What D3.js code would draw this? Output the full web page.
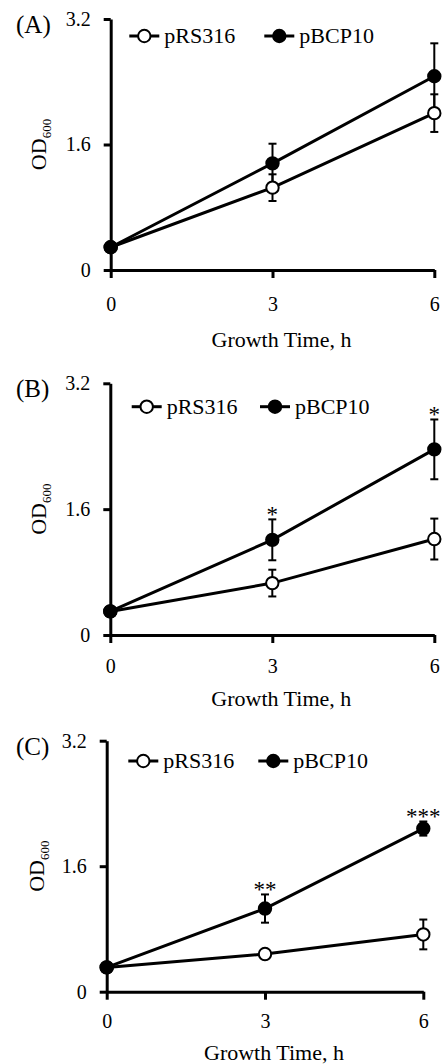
<!DOCTYPE html>
<html>
<head>
<meta charset="utf-8">
<script src="https://cdn.jsdelivr.net/npm/d3@7"></script>
<style>
  body { margin: 0; background: #fff; }
</style>
</head>
<body>
<div id="chart"></div>
<script>
// data (OD600 means and error bars)
const times = [0, 3, 6];
const seriesNames = ["pRS316", "pBCP10"];
const panelLabels = ["(A)", "(B)", "(C)"];
const yTicks = [0, 1.6, 3.2];
const yTickLabels = ["0", "1.6", "3.2"];
const xTickLabels = ["0", "3", "6"];

const rs316Mean = [[0.29, 1.05, 2.00], [0.30, 0.66, 1.22], [0.31, 0.48, 0.73]];
const rs316Err  = [[0.02, 0.17, 0.24], [0.02, 0.17, 0.26], [0.02, 0.03, 0.19]];
const bcp10Mean = [[0.29, 1.36, 2.47], [0.30, 1.21, 2.36], [0.31, 1.06, 2.08]];
const bcp10Err  = [[0.02, 0.25, 0.42], [0.02, 0.26, 0.38], [0.02, 0.18, 0.09]];
const stars = [["", "", ""], ["", "*", "*"], ["", "**", "***"]];

// where each panel sits on the page
const layout = [
  {x0: 110.7, x1: 434.3, top: 19,    bottom: 270,   tickPad: 19, titleY: 347,  legY: 36,    leg1: 144.3, leg2: 279.3, yTitleX: 46},
  {x0: 110.3, x1: 434.3, top: 383.3, bottom: 635,   tickPad: 16, titleY: 706,  legY: 406.7, leg1: 146.7, leg2: 275,   yTitleX: 46},
  {x0: 106.7, x1: 423.3, top: 740.7, bottom: 991.7, tickPad: 14, titleY: 1060, legY: 761,   leg1: 143.3, leg2: 273.3, yTitleX: 44}
];

const serif = "Liberation Serif, serif";
const w = 443, h = 1064;
const svg = d3.select("#chart").append("svg").attr("width", w).attr("height", h)
  .style("font-family", serif);

layout.forEach((L, p) => {
  const g = svg.append("g");
  const x = d3.scaleLinear().domain([0, 6]).range([L.x0, L.x1]);
  const y = d3.scaleLinear().domain([0, 3.2]).range([L.bottom, L.top]);

  // axes
  const yAxis = g.append("g")
    .attr("transform", `translate(${L.x0},0)`)
    .call(d3.axisLeft(y).tickValues(yTicks).tickFormat((d, i) => yTickLabels[i])
      .tickSize(7).tickSizeOuter(0).tickPadding(13));
  const xAxis = g.append("g")
    .attr("transform", `translate(0,${L.bottom})`)
    .call(d3.axisBottom(x).tickValues(times).tickFormat((d, i) => xTickLabels[i])
      .tickSize(8).tickSizeOuter(0).tickPadding(L.tickPad));
  [yAxis, xAxis].forEach(a => {
    a.attr("font-family", serif).attr("font-size", 20);
    a.select(".domain").attr("stroke-width", 3);
    a.selectAll(".tick line").attr("stroke-width", 3);
  });

  const label = (sel, size) => sel.style("font-family", serif).attr("font-size", size).attr("fill", "#000");

  // titles
  label(g.append("text"), 22).attr("x", (L.x0 + L.x1) / 2 + 9).attr("y", L.titleY)
    .attr("text-anchor", "middle").text("Growth Time, h");
  const yt = label(g.append("text"), 22)
    .attr("transform", `translate(${L.yTitleX},${(L.top + L.bottom) / 2}) rotate(-90)`)
    .attr("text-anchor", "middle");
  yt.append("tspan").text("OD");
  yt.append("tspan").attr("font-size", 13).attr("dy", 5).text("600");
  label(g.append("text"), 25).attr("x", 16).attr("y", L.top + 14).text(panelLabels[p]);

  const sets = [
    {mean: rs316Mean[p], err: rs316Err[p], fill: "#fff"},
    {mean: bcp10Mean[p], err: bcp10Err[p], fill: "#000"}
  ];

  // error bars
  sets.forEach(s => {
    const eb = g.append("g").attr("stroke", "#000").attr("stroke-width", 2);
    eb.selectAll(null).data(times).enter().append("line")
      .attr("x1", d => x(d)).attr("x2", d => x(d))
      .attr("y1", (d, i) => y(s.mean[i] - s.err[i])).attr("y2", (d, i) => y(s.mean[i] + s.err[i]));
    [-1, 1].forEach(sg => {
      eb.selectAll(null).data(times).enter().append("line")
        .attr("x1", d => x(d) - 4).attr("x2", d => x(d) + 4)
        .attr("y1", (d, i) => y(s.mean[i] + sg * s.err[i])).attr("y2", (d, i) => y(s.mean[i] + sg * s.err[i]));
    });
  });

  // lines
  const line = d3.line().x((d, i) => x(times[i])).y(d => y(d));
  sets.forEach(s => {
    g.append("path").datum(s.mean).attr("d", line)
      .attr("fill", "none").attr("stroke", "#000").attr("stroke-width", 3);
  });

  // markers
  sets.forEach(s => {
    g.selectAll(null).data(s.mean).enter().append("circle")
      .attr("cx", (d, i) => x(times[i])).attr("cy", d => y(d)).attr("r", 6.2)
      .attr("fill", s.fill).attr("stroke", "#000").attr("stroke-width", 2);
  });

  // significance stars
  label(g.selectAll(null).data(stars[p]).enter().append("text"), 23)
    .attr("x", (d, i) => x(times[i])).attr("y", (d, i) => y(bcp10Mean[p][i] + bcp10Err[p][i]) + 3)
    .attr("text-anchor", "middle").text(d => d);

  // legend
  [L.leg1, L.leg2].forEach((cx, k) => {
    const lg = g.append("g");
    lg.append("line").attr("x1", cx - 15).attr("x2", cx + 15).attr("y1", L.legY).attr("y2", L.legY)
      .attr("stroke", "#000").attr("stroke-width", 3);
    lg.append("circle").attr("cx", cx).attr("cy", L.legY).attr("r", 6.2)
      .attr("fill", sets[k].fill).attr("stroke", "#000").attr("stroke-width", 2);
    label(lg.append("text"), 22).attr("x", cx + 20).attr("y", L.legY).attr("dy", "0.33em")
      .text(seriesNames[k]);
  });
});
</script>
</body>
</html>
